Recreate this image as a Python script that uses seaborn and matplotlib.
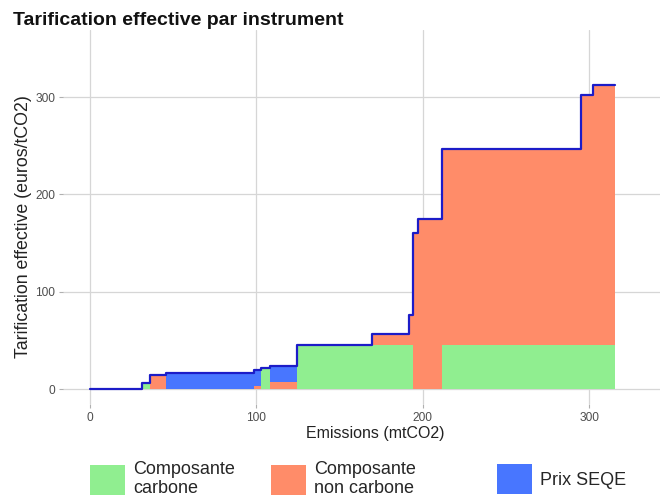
import numpy as np
import seaborn as sns
import matplotlib.pyplot as plt
from matplotlib.patches import Patch

# Step segments (start of each step, emissions in mtCO2)
seg_start = [0, 31, 36, 45.5, 98.7, 102.8, 108.2, 124.4, 169.3, 191.9, 194.3, 197.3, 211.7, 295, 302.5]
seg_end = 315.5

# Price components per segment (euros/tCO2)
carbone = [0, 6.5, 0, 0, 0, 21.5, 0, 45, 45, 45, 0, 0, 45, 45, 45]
non_carbone = [0, 0, 14.5, 0, 3, 0, 7, 0, 12, 31, 160, 175, 201.5, 257, 267]
seqe = [0, 0, 0, 16, 16.5, 0, 16.5, 0, 0, 0, 0, 0, 0, 0, 0]

labels = ['Composante\ncarbone', 'Composante\nnon carbone', 'Prix SEQE']
colors = ['#90EE90', '#FF8C69', '#4876FF']
line_color = '#1C1CC8'

sns.set_theme(style='whitegrid')
plt.rcParams['font.family'] = ['Liberation Sans', 'DejaVu Sans']

# edges + repeat last value for step='post'
x = np.array(seg_start + [seg_end])
def ext(v):
    return np.array(v + [v[-1]], dtype=float)

c = ext(carbone)
nc = ext(non_carbone)
s = ext(seqe)
total = c + nc + s

fig = plt.figure(figsize=(6.7, 5.01), dpi=100)
ax = fig.add_axes([63 / 670, 1 - 404 / 501, (660 - 63) / 670, (404 - 30) / 501])

ax.fill_between(x, 0, c, step='post', color=colors[0], linewidth=0)
ax.fill_between(x, c, c + nc, step='post', color=colors[1], linewidth=0)
ax.fill_between(x, c + nc, total, step='post', color=colors[2], linewidth=0)
sns.lineplot(x=x, y=total, drawstyle='steps-post', color=line_color,
             linewidth=1.6, estimator=None, sort=False, ax=ax)

ax.set_xlim(-16.2, (660 - 90) / 1.664)
ax.set_ylim(-15.4, 368.9)
ax.set_xticks([0, 100, 200, 300])
ax.set_yticks([0, 100, 200, 300])
ax.grid(True, color='#D6D6D6', linewidth=0.9)
ax.set_axisbelow(True)
for sp in ax.spines.values():
    sp.set_visible(False)
ax.set_facecolor('white')
ax.tick_params(axis='both', which='major', length=3, width=0.8, color='#B0B0B0',
               labelsize=8.6, labelcolor='#4D4D4D', pad=2.5, bottom=True, left=True)

ax.set_xlabel('Emissions (mtCO2)', fontsize=11.5, color='#222222')
ax.xaxis.set_label_coords((375 - 63) / 597, (404 - 426) / 374)
ax.set_ylabel('')
fig.text(24 / 670, 1 - 227 / 501, 'Tarification effective (euros/tCO2)',
         rotation=90, ha='center', va='center', fontsize=12.8, color='#222222')

fig.text(13 / 670, 1 - 25 / 501, 'Tarification effective par instrument',
         fontsize=14, fontweight='bold', va='baseline', ha='left', color='#111111')

# legend at bottom, one entry per position like the reference
key_x = [90, 271, 497]
for lab, col, kx in zip(labels, colors, key_x):
    fig.legend(handles=[Patch(facecolor=col, edgecolor='none')], labels=[lab],
               loc='center left', bbox_to_anchor=(kx / 670, 1 - 479 / 501),
               frameon=False, fontsize=13, borderpad=0, borderaxespad=0,
               handlelength=1.95, handleheight=2.2, handletextpad=0.45)

fig.savefig('out.png', dpi=100)
